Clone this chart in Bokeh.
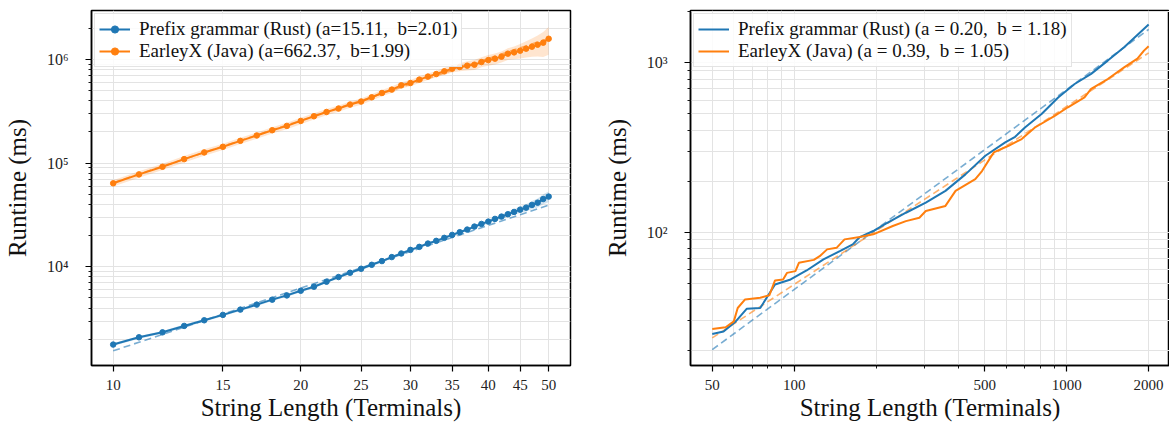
from bokeh.plotting import figure
from bokeh.layouts import row
from bokeh.models import FixedTicker, Legend, LegendItem, Range1d
from bokeh.embed import file_html
from bokeh.resources import INLINE

# ---------------- Left panel data (String length 10..50) ----------------
lengths = list(range(10, 51))
rust_ms = [1778, 2089, 2333, 2690, 3048, 3435, 3863, 4316, 4819, 5296,
           5872, 6424, 7178, 7965, 8758, 9570, 10450, 11350, 12400, 13430,
           14560, 15560, 16750, 17780, 19000, 20300, 21550, 22850, 24420, 25900,
           27270, 28950, 30470, 32120, 33800, 35570, 37180, 39480, 41500, 45000,
           47500]
java_ms = [63800, 77800, 92100, 109200, 126700, 143500, 163800, 184600, 207500, 228300,
           255000, 283000, 311000, 335700, 366700, 392000, 431000, 474000, 511000, 562000,
           592000, 638000, 682000, 722000, 767000, 814000, 844000, 870000, 889000, 942000,
           984000, 1016000, 1062000, 1135000, 1168000, 1213000, 1268000, 1325000, 1385000, 1448000,
           1581000]
# relative half-width of the shaded spread band
rust_spread = [0.03, 0.03, 0.03, 0.03, 0.03, 0.03, 0.03, 0.03, 0.03, 0.03,
               0.03, 0.03, 0.03, 0.03, 0.03, 0.03, 0.03, 0.03, 0.03, 0.03,
               0.03, 0.03, 0.03, 0.03, 0.03, 0.03, 0.03, 0.03, 0.03, 0.04,
               0.04, 0.05, 0.05, 0.06, 0.06, 0.07, 0.08, 0.09, 0.10, 0.11,
               0.12]
java_spread = [0.07, 0.07, 0.07, 0.07, 0.07, 0.07, 0.07, 0.07, 0.07, 0.07,
               0.07, 0.07, 0.07, 0.07, 0.07, 0.07, 0.07, 0.07, 0.07, 0.07,
               0.07, 0.07, 0.07, 0.07, 0.08, 0.08, 0.09, 0.10, 0.11, 0.11,
               0.12, 0.12, 0.12, 0.13, 0.14, 0.16, 0.18, 0.20, 0.23, 0.27,
               0.30]
left_fit_a = [15.11, 662.37]
left_fit_b = [2.01, 1.99]
left_labels = ["Prefix grammar (Rust) (a=15.11,  b=2.01)",
               "EarleyX (Java) (a=662.37,  b=1.99)"]
left_xticks = [10, 15, 20, 25, 30, 35, 40, 45, 50]
left_xtick_labels = ["10", "15", "20", "25", "30", "35", "40", "45", "50"]
left_yticks = [1e4, 1e5, 1e6]
left_ytick_labels = ["10\u2074", "10\u2075", "10\u2076"]
left_yminor = [m * 10 ** e for e in (3, 4, 5, 6) for m in range(2, 10)]

# ---------------- Right panel data (String length 50..2000) ----------------
rust_x = [50, 55, 61, 67, 75, 85, 97, 111, 128, 147, 164, 174, 195, 217, 257, 304,
          359, 425, 503, 595, 647, 703, 809, 931, 1070, 1230, 1416, 1626, 2000]
rust_y = [25.0, 25.9, 29.7, 35.3, 35.6, 49.0, 52.5, 59.3, 68.9, 77.2, 84.6, 93.4, 101.4,
          112, 130, 149, 175, 219, 282, 338, 365, 414, 497, 623, 748, 858, 1028, 1234, 1680]
java_x = [50, 56, 60, 62, 66, 75, 81, 85, 91, 94, 101, 104, 118, 124, 132, 143, 147,
          153, 174, 195, 230, 257, 288, 304, 359, 391, 462, 489, 525, 540, 612, 684,
          765, 904, 1011, 1163, 1230, 1416, 1626, 1819, 1923, 2000]
java_y = [26.8, 27.4, 29.7, 35.6, 40.0, 40.9, 42.3, 51.8, 52.5, 57.4, 58.8, 65.8, 68.5,
          72, 79, 80.7, 84.6, 90.5, 93.4, 96.9, 108.5, 116, 121.5, 133, 142.6, 175, 205,
          229, 275, 295, 323, 354, 414, 485, 545, 623, 700, 800, 938, 1055, 1177, 1250]
right_fit_a = [0.20, 0.39]
right_fit_b = [1.18, 1.05]
right_fit_x = [50, 2000]
right_labels = ["Prefix grammar (Rust) (a = 0.20,  b = 1.18)",
                "EarleyX (Java) (a = 0.39,  b = 1.05)"]
right_xticks = [50, 100, 500, 1000, 2000]
right_xtick_labels = ["50", "100", "500", "1000", "2000"]
right_xminor = [60, 70, 80, 90, 200, 300, 400, 600, 700, 800, 900]
right_yticks = [100, 1000]
right_ytick_labels = ["10\u00b2", "10\u00b3"]
right_yminor = [m * 10 ** e for e in (1, 2, 3) for m in range(2, 10)]

BLUE = "#1f77b4"
ORANGE = "#ff7f0e"
FONT = "Liberation Serif"
GRID = "#e3e3e3"


def style(p, xt, xl, xminor, yt, yl, yminor, xminor_grid):
    p.xaxis.ticker = FixedTicker(ticks=xt, minor_ticks=xminor)
    p.yaxis.ticker = FixedTicker(ticks=yt, minor_ticks=yminor)
    p.xaxis.major_label_overrides = {float(t): s for t, s in zip(xt, xl)}
    p.yaxis.major_label_overrides = {float(t): s for t, s in zip(yt, yl)}
    for ax in (p.xaxis, p.yaxis):
        ax.axis_line_color = "black"
        ax.axis_line_width = 1.5
        ax.major_tick_line_color = "black"
        ax.major_tick_line_width = 1.2
        ax.minor_tick_line_color = "black"
        ax.minor_tick_line_width = 0.9
        ax.major_tick_out = 6
        ax.major_tick_in = 0
        ax.minor_tick_out = 3
        ax.minor_tick_in = 0
        ax.major_label_text_font = FONT
        ax.major_label_text_font_size = "15px"
        ax.major_label_text_color = "#222222"
        ax.axis_label_text_font = FONT
        ax.axis_label_text_font_size = "25px"
        ax.axis_label_text_font_style = "normal"
        ax.axis_label_text_color = "#111111"
    p.yaxis.major_label_text_font_size = "16px"
    p.xaxis.major_label_standoff = 8
    p.xaxis.axis_label_standoff = 1
    p.yaxis.major_label_standoff = 17
    p.yaxis.axis_label_standoff = 13
    p.xaxis.axis_label = "String Length (Terminals)"
    p.yaxis.axis_label = "Runtime (ms)"
    p.xgrid.grid_line_color = GRID
    p.ygrid.grid_line_color = GRID
    p.ygrid.minor_grid_line_color = GRID
    if xminor_grid:
        p.xgrid.minor_grid_line_color = GRID
    p.outline_line_color = "black"
    p.outline_line_width = 1.5
    p.background_fill_color = "white"
    p.border_fill_color = "white"


def make_legend(items):
    lg = Legend(items=items, location="top_left")
    lg.label_text_font = FONT
    lg.label_text_font_size = "19px"
    lg.label_text_color = "#111111"
    lg.glyph_width = 31
    lg.glyph_height = 18
    lg.label_height = 18
    lg.label_standoff = 9
    lg.spacing = -3
    lg.padding = 4
    lg.margin = 3
    lg.background_fill_color = "white"
    lg.background_fill_alpha = 0.85
    lg.border_line_color = "#dddddd"
    lg.border_line_alpha = 0.8
    return lg


# ---------------- Left figure ----------------
p1 = figure(width=600, height=430, x_axis_type="log", y_axis_type="log",
            x_range=Range1d(9.23, 54.2), y_range=Range1d(1117, 2.96e6),
            output_backend="svg", toolbar_location=None,
            min_border_left=86, min_border_right=30, min_border_top=10, min_border_bottom=65)
style(p1, left_xticks, left_xtick_labels, [], left_yticks, left_ytick_labels, left_yminor, False)

left_items = []
for vals, spread, color, a, b, label in (
        (rust_ms, rust_spread, BLUE, left_fit_a[0], left_fit_b[0], left_labels[0]),
        (java_ms, java_spread, ORANGE, left_fit_a[1], left_fit_b[1], left_labels[1])):
    lo = [v * (1 - s) for v, s in zip(vals, spread)]
    hi = [v * (1 + s) for v, s in zip(vals, spread)]
    p1.varea(x=lengths, y1=lo, y2=hi, fill_color=color, fill_alpha=0.2)
    fit = [a * x ** b for x in lengths]
    p1.line(lengths, fit, line_color=color, line_alpha=0.6, line_width=1.6, line_dash="7 4")
    ln = p1.line(lengths, vals, line_color=color, line_width=2)
    sc = p1.scatter(lengths, vals, size=5.5, fill_color=color, line_color=color)
    left_items.append(LegendItem(label=label, renderers=[ln, sc]))
p1.add_layout(make_legend(left_items))

# ---------------- Right figure ----------------
p2 = figure(width=569, height=430, x_axis_type="log", y_axis_type="log",
            x_range=Range1d(41.6, 2386), y_range=Range1d(16.3, 2031),
            output_backend="svg", toolbar_location=None,
            min_border_left=86, min_border_right=0, min_border_top=10, min_border_bottom=65)
style(p2, right_xticks, right_xtick_labels, right_xminor, right_yticks, right_ytick_labels, right_yminor, True)

for color, a, b in ((BLUE, right_fit_a[0], right_fit_b[0]), (ORANGE, right_fit_a[1], right_fit_b[1])):
    fit = [a * x ** b for x in right_fit_x]
    p2.line(right_fit_x, fit, line_color=color, line_alpha=0.6, line_width=1.6, line_dash="7 4")
right_items = []
for xs, ys, color, label in ((rust_x, rust_y, BLUE, right_labels[0]),
                             (java_x, java_y, ORANGE, right_labels[1])):
    ln = p2.line(xs, ys, line_color=color, line_width=2)
    right_items.append(LegendItem(label=label, renderers=[ln]))
p2.add_layout(make_legend(right_items))

layout = row(p1, p2)
open("out.html", "w").write(file_html(layout, INLINE))
